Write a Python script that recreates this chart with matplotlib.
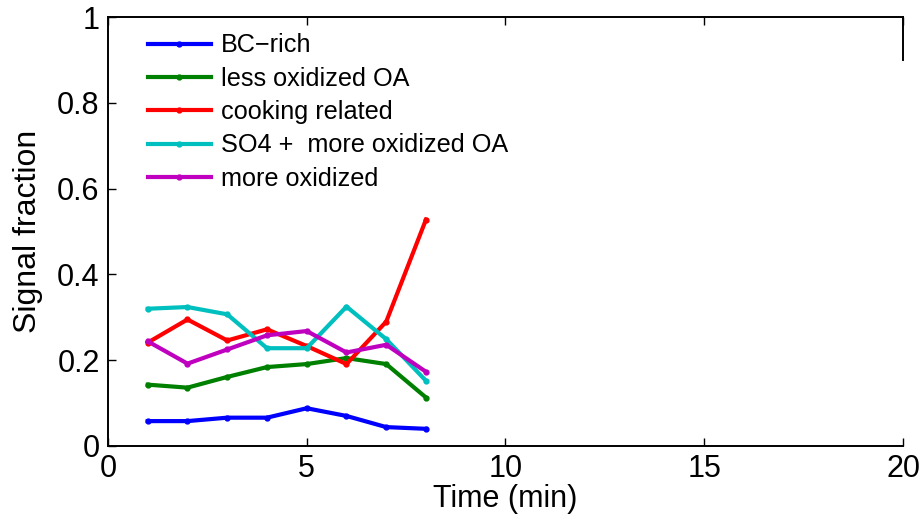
import matplotlib
matplotlib.use("Agg")
import matplotlib.pyplot as plt

plt.rcParams["font.family"] = ["Liberation Sans", "DejaVu Sans"]

# --- data ---
time_min = [1, 2, 3, 4, 5, 6, 7, 8]
bc_rich = [0.058, 0.058, 0.066, 0.066, 0.088, 0.070, 0.044, 0.040]
less_ox = [0.143, 0.136, 0.161, 0.184, 0.191, 0.205, 0.191, 0.113]
cooking = [0.241, 0.295, 0.246, 0.272, 0.233, 0.191, 0.290, 0.528]
so4_more = [0.320, 0.324, 0.307, 0.228, 0.228, 0.325, 0.249, 0.152]
more_ox = [0.244, 0.192, 0.225, 0.258, 0.268, 0.218, 0.236, 0.173]

series = [
    ("BC\u2212rich", bc_rich, (0, 0, 1)),
    ("less oxidized OA", less_ox, (0, 0.5, 0)),
    ("cooking related", cooking, (1, 0, 0)),
    ("SO4 +  more oxidized OA", so4_more, (0, 0.75, 0.75)),
    ("more oxidized", more_ox, (0.75, 0, 0.75)),
]

fig = plt.figure(figsize=(9.19, 5.19), dpi=100)
ax = fig.add_axes([0.1175, 0.1407, 0.8651, 0.8263])

for label, vals, col in series:
    ax.plot(time_min, vals, "-", color=col, lw=3, marker="o", ms=3.5, label=label)

ax.set_xlim(0, 20)
ax.set_ylim(0, 1)
ax.set_xticks([0, 5, 10, 15, 20])
ax.set_yticks([0, 0.2, 0.4, 0.6, 0.8, 1])
ax.set_yticklabels(["0", "0.2", "0.4", "0.6", "0.8", "1"])
ax.tick_params(direction="in", top=True, right=False, length=6, width=1,
               labelsize=22, pad=6)
for s in ax.spines.values():
    s.set_linewidth(1.4)
ax.spines["right"].set_bounds(0.9, 1)

ax.set_xlabel("Time (min)", fontsize=22, labelpad=0)
ax.set_ylabel("Signal fraction", fontsize=23, labelpad=10)

ax.legend(loc="upper left", bbox_to_anchor=(0.05, 0.962), frameon=False,
          fontsize=18.2, handlelength=2.5, handletextpad=0.4, labelspacing=0.37,
          borderpad=0, borderaxespad=0)

fig.savefig("out.png", dpi=100)
